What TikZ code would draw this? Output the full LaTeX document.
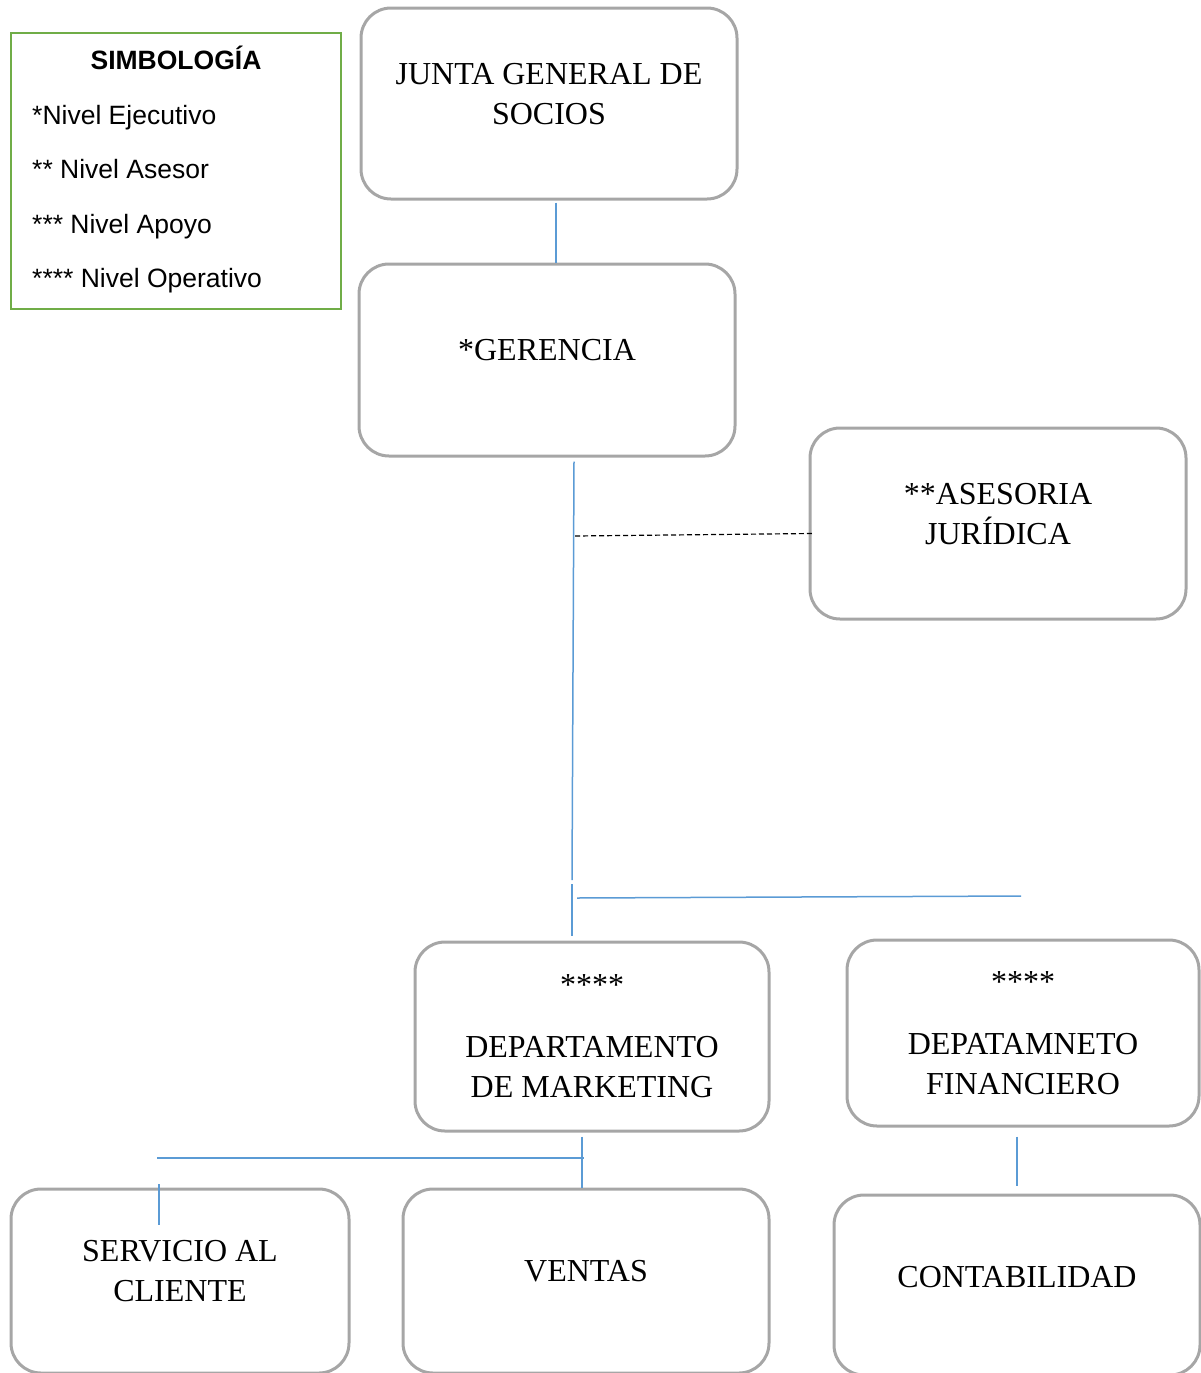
\documentclass[tikz,border=0pt]{standalone}
\usepackage{fontspec}
\setmainfont{Liberation Serif}
\setsansfont{Liberation Sans}
\definecolor{BoxGray}{RGB}{166,166,166}
\definecolor{LinkBlue}{RGB}{91,155,213}
\definecolor{LegendGreen}{RGB}{112,173,71}
\usetikzlibrary{positioning}

\begin{document}
\begin{tikzpicture}[x=1pt,y=-1pt,
	unit/.style={draw=BoxGray,line width=3pt,rounded corners=30pt,align=center,
		inner sep=0pt,font=\fontsize{32}{40}\selectfont},
	link/.style={draw=LinkBlue,line width=1.5pt},
	advice/.style={draw=black,line width=1.2pt,dash pattern=on 5pt off 3pt},
	legtxt/.style={font=\sffamily\fontsize{26.5}{30}\selectfont,inner sep=0pt,
		text height=19pt,text depth=0pt}]
\useasboundingbox (0,0) rectangle (1201,1373);
% legend
\node[draw=LegendGreen,line width=2.5pt,minimum width=330pt,minimum height=276pt,inner sep=0pt]
	(leyenda) at (176,171) {};
\node[legtxt,font=\sffamily\bfseries\fontsize{26.5}{30}\selectfont] (titulo) at (176,60) {SIMBOLOGÍA};
\foreach \i/\y/\t in {1/115/*Nivel Ejecutivo,2/169/** Nivel Asesor,3/224/*** Nivel Apoyo,4/278/**** Nivel Operativo}
	\node[legtxt,anchor=west] (nivel\i) at (32,\y) {\t};
% units
\node[unit,minimum width=376pt,minimum height=191pt] (junta) at (549,103.5) {JUNTA GENERAL DE\\SOCIOS\\[-20pt]};
\node[unit,minimum width=376pt,minimum height=192pt] (gerencia) at (547,360) {*GERENCIA\\[-20pt]};
\node[unit,minimum width=376pt,minimum height=191pt] (asesoria) at (998,523.5) {**ASESORIA\\JURÍDICA\\[-20pt]};
\node[unit,minimum width=354pt,minimum height=189pt] (marketing) at (592,1036.5) {****\\[22pt]DEPARTAMENTO\\DE MARKETING};
\node[unit,minimum width=352pt,minimum height=186pt] (financiero) at (1023,1033) {****\\[22pt]DEPATAMNETO\\FINANCIERO};
\node[unit,minimum width=338pt,minimum height=184pt] (servicio) at (180,1281) {SERVICIO AL\\CLIENTE\\[-20pt]};
\node[unit,minimum width=366pt,minimum height=184pt] (ventas) at (586,1281) {VENTAS\\[-20pt]};
\node[unit,minimum width=366pt,minimum height=180pt] (contab) at (1017,1285) {CONTABILIDAD\\[-24pt]};
% connections
\coordinate (k1) at (572,880);
\coordinate (k2) at (572,884);
\coordinate (k3) at (577,898);
\coordinate (k4) at (1021,896);
\coordinate (k5) at (575,536);
\coordinate (m1) at (157,1158);
\coordinate (m2) at (584,1158);
\coordinate (s1) at (159,1184);
\draw[link] ([xshift=7pt,yshift=-2pt]junta.south) -- ([xshift=9pt]gerencia.north);
\draw[link] ([xshift=27pt,yshift=-4pt]gerencia.south) -- (k1);
\draw[link] (k2) -- ++(0,52);
\draw[link] (k3) -- (k4);
\draw[advice] (k5) -- ([xshift=4pt,yshift=-10pt]asesoria.west);
\draw[link] ([xshift=-10pt,yshift=-4pt]marketing.south) -- ([xshift=-4pt]ventas.north);
\draw[link] (m1) -- (m2);
\draw[link] (s1) -- ++(0,41);
\draw[link,shorten <=9pt,shorten >=8pt] ([xshift=-6pt]financiero.south) -- (contab.north);
\end{tikzpicture}
\end{document}
